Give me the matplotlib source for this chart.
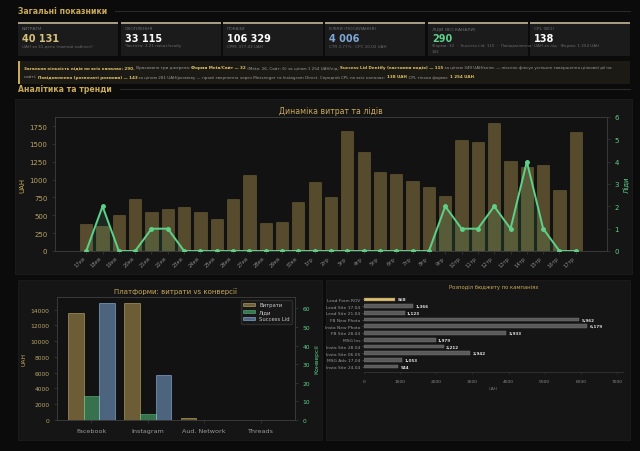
"""Дашборд: загальні показники, динаміка витрат та лідів, платформи і кампанії."""

import matplotlib

matplotlib.use("Agg")
import matplotlib.pyplot as plt
from matplotlib.patches import Rectangle
import numpy as np

# --- Дані -------------------------------------------------------------------
kpi_labels = ["ВИТРАТИ", "ОХОПЛЕННЯ", "ПОКАЗИ", "КЛІКИ (ПОСИЛАННЯ)", "ЛІДИ (ВСІ КАНАЛИ)", "CPL (ВСІ)"]
kpi_values = ["40 131", "33 115", "106 329", "4 006", "290", "138"]
kpi_notes = [
    "UAH за 31 день (повний кабінет)",
    "Частота: 3.21 показ/особу",
    "CPM: 377.43 UAH",
    "CTR 3.77% · CPC 10.02 UAH",
    "Форми: 32  ·  Success Lid: 115  ·  Повідомлення:\n143",
    "UAH за лід · Форми: 1 254 UAH",
]

days = ["17кв", "18кв", "19кв", "20кв", "21кв", "22кв", "23кв", "24кв", "25кв", "26кв",
        "27кв", "28кв", "29кв", "30кв", "1тр", "2тр", "3тр", "4тр", "5тр", "6тр", "7тр",
        "8тр", "9тр", "10тр", "11тр", "12тр", "13тр", "14тр", "15тр", "16тр", "17тр"]
daily_spend = [376, 357, 503, 729, 546, 588, 616, 546, 442, 729, 1058, 395, 405, 682, 969,
               762, 1684, 1392, 1101, 1077, 983, 894, 776, 1552, 1524, 1788, 1261, 1181,
               1200, 861, 1670]
daily_leads = [0, 2, 0, 0, 1, 1, 0, 0, 0, 0, 0, 0, 0, 0, 0,
               0, 0, 0, 0, 0, 0, 0, 2, 1, 1, 2, 1, 4, 1, 0, 0]

platforms = ["Facebook", "Instagram", "Aud. Network", "Threads"]
platform_spend = [13535, 14846, 254, 0]
platform_leads = [13, 3, 0, 0]
platform_success = [63, 24, 0, 0]

campaigns = ["Lead Form ROV", "Lead Site 17.04", "Lead Site 21.04", "FB New Photo",
             "Insta New Photo", "FB Site 28.04", "MSG Ins", "Insta Site 28.04",
             "Insta Site 06.05", "MSG Adv 17.04", "Insta Site 24.04"]
campaign_spend = [868, 1366, 1123, 5962, 6179, 3933, 1979, 2212, 2942, 1053, 944]

# --- Кольори ----------------------------------------------------------------
BG = "#0b0b0b"
PANEL = "#151515"
CARD = "#1b1b1b"
GOLD = "#c9a95a"
GREEN = "#5fd08a"
BLUE = "#7fa8d8"
GRAY = "#8a8a8a"
SPINE = "#3a3a3a"

W, H = 640, 452
fig = plt.figure(figsize=(W / 100, H / 100), dpi=100, facecolor=BG)
renderer = fig.canvas.get_renderer()


def fx(px):
    return px / W


def fy(py):
    return 1 - py / H


def box(x0, y0, x1, y1, color, edge=None, lw=0.0):
    fig.patches.append(Rectangle((fx(x0), fy(y1)), fx(x1 - x0), (y1 - y0) / H,
                                 transform=fig.transFigure, facecolor=color,
                                 edgecolor=edge if edge else color, linewidth=lw, zorder=-5))


def section_header(text, y):
    t = fig.text(fx(18), fy(y), text, color=GOLD, fontsize=5.6, fontweight="bold",
                 va="center", ha="left")
    x_end = t.get_window_extent(renderer).x1 + 8
    fig.add_artist(plt.Line2D([x_end / W, fx(630)], [fy(y), fy(y)], color="#2a2a2a",
                              lw=0.8, transform=fig.transFigure, zorder=-4))


# --- Загальні показники -------------------------------------------------------
section_header("Загальні показники", 12)

value_colors = ["#d8c27a", "white", "white", BLUE, GREEN, "white"]
card_x = [18, 121, 223, 325, 428, 530]
for i, cx in enumerate(card_x):
    box(cx, 23, cx + 100, 57, CARD)
    box(cx, 22.5, cx + 100, 24.5, "#a59c84")
    fig.text(fx(cx + 4), fy(29.5), kpi_labels[i], color="#6f6f6f", fontsize=3.2, va="center")
    fig.text(fx(cx + 4), fy(38.5), kpi_values[i], color=value_colors[i], fontsize=7,
             fontweight="bold", va="center")
    fig.text(fx(cx + 4), fy(44.5), kpi_notes[i], color="#6a6a6a", fontsize=3.0,
             va="top", linespacing=1.4)

# --- Пояснення по лідах ------------------------------------------------------
box(18, 62, 630, 85, "#1c1a14")
box(18, 62, 20, 85, GOLD)

banner_lines = [
    [("Загальна кількість лідів по всіх каналах: 290.", True),
     (" Враховано три джерела: ", False),
     ("Форми Meta/Сайт — 32", True),
     (" (Meta: 26, Сайт: 6) за ціною 1 254 UAH/лід; ", False),
     ("Success Lid Dentify (кастомна подія) — 115", True),
     (" за ціною 349 UAH/конв. — піксель фіксує успішне завершення цільової дії на", False)],
    [("сайті; ", False),
     ("Повідомлення (розпочаті розмови) — 143", True),
     (" за ціною 281 UAH/розмову — прямі звернення через Messenger та Instagram Direct. "
      "Середній CPL по всіх каналах: ", False),
     ("138 UAH", True),
     (". CPL тільки форми: ", False),
     ("1 254 UAH", True),
     (".", False)],
]


def draw_runs(runs, line_y, size):
    x = 24
    for txt, bold in runs:
        t = fig.text(fx(x), fy(line_y), txt, fontsize=size, va="center", ha="left",
                     color="#e0c068" if bold else "#9a9a9a",
                     fontweight="bold" if bold else "normal")
        x += t.get_window_extent(renderer).width
    return x


# перший рядок має закінчуватися біля x=615
probe = [fig.text(0, 0, txt, fontsize=10, fontweight="bold" if b else "normal")
         for txt, b in banner_lines[0]]
total = sum(p.get_window_extent(renderer).width for p in probe)
for p in probe:
    p.remove()
banner_size = 10 * (615 - 24) / total
for line_y, runs in zip([68.5, 77.5], banner_lines):
    draw_runs(runs, line_y, banner_size)

# --- Аналітика та тренди -----------------------------------------------------
section_header("Аналітика та тренди", 90)

box(15, 100, 632, 275, PANEL, edge="#1f1f1f", lw=0.5)
box(18, 281, 322, 441, PANEL, edge="#1f1f1f", lw=0.5)
box(326, 281, 630, 441, PANEL, edge="#1f1f1f", lw=0.5)


def style_axes(ax):
    ax.set_facecolor("#121212")
    for s in ax.spines.values():
        s.set_color(SPINE)
        s.set_linewidth(0.6)
    ax.tick_params(colors=SPINE, length=2, width=0.5)


# Динаміка витрат та лідів
ax1 = fig.add_axes([fx(55), fy(252), fx(552), 134 / H])
style_axes(ax1)
x = np.arange(len(days))
ax1.bar(x, daily_spend, width=0.75, color=GOLD, alpha=0.38, edgecolor=GOLD, linewidth=0.4)
ax1.set_ylim(0, max(daily_spend) * 1.05)
ax1.set_yticks(range(0, 1751, 250))
ax1.tick_params(axis="y", labelcolor="#b9a366", labelsize=5)
ax1.set_xticks(x)
ax1.set_xticklabels(days, rotation=45, ha="right", fontsize=3.8, color=GRAY)
ax1.tick_params(axis="x", pad=1)
ax1.set_ylabel("UAH", color=GOLD, fontsize=5, labelpad=3)
ax1.set_title("Динаміка витрат та лідів", color=GOLD, fontsize=5.6, pad=3)

ax1r = ax1.twinx()
ax1r.plot(x, daily_leads, color=GREEN, lw=1.4, marker="o", ms=2.5, zorder=3)
ax1r.fill_between(x, daily_leads, color=GREEN, alpha=0.12)
ax1r.set_ylim(0, 6)
ax1r.set_yticks(range(0, 7))
ax1r.tick_params(axis="y", labelsize=5, colors=SPINE, length=2, width=0.5)
ax1r.tick_params(axis="y", labelcolor=GREEN)
for s in ax1r.spines.values():
    s.set_color(SPINE)
    s.set_linewidth(0.6)
ax1r.set_ylabel("Ліди", color=GREEN, fontsize=5, labelpad=3)

# Платформи: витрати vs конверсії
ax2 = fig.add_axes([fx(57), fy(421), fx(238), 123 / H])
style_axes(ax2)
px = np.arange(len(platforms))
bw = 0.28
b1 = ax2.bar(px - bw, platform_spend, width=bw, color=GOLD, alpha=0.5, edgecolor="#d8c27a",
             linewidth=0.7, label="Витрати")
ax2.set_ylim(0, max(platform_spend) * 1.05)
ax2.set_xticks(px)
ax2.set_xticklabels(platforms, fontsize=4.6, color="#9a9a9a")
ax2.tick_params(axis="y", labelcolor="#b9a366", labelsize=4.3)
ax2.set_ylabel("UAH", color=GOLD, fontsize=4.3, labelpad=3)
ax2.set_title("Платформи: витрати vs конверсії", color=GOLD, fontsize=5, pad=3)

ax2r = ax2.twinx()
b2 = ax2r.bar(px, platform_leads, width=bw, color=GREEN, alpha=0.5, edgecolor=GREEN,
              linewidth=0.7, label="Ліди")
b3 = ax2r.bar(px + bw, platform_success, width=bw, color=BLUE, alpha=0.55, edgecolor="#9cc0ea",
              linewidth=0.7, label="Success Lid")
ax2r.set_ylim(0, max(platform_success) * 1.05)
ax2r.tick_params(axis="y", labelsize=4.3, colors=SPINE, length=2, width=0.5)
ax2r.tick_params(axis="y", labelcolor=GREEN)
for s in ax2r.spines.values():
    s.set_color(SPINE)
    s.set_linewidth(0.6)
ax2r.set_ylabel("Конверсії", color=GREEN, fontsize=4.3, labelpad=3)
ax2r.legend([b1, b2, b3], ["Витрати", "Ліди", "Success Lid"], loc="upper right",
            fontsize=3.8, facecolor="#1a1a1a", edgecolor="#333333", labelcolor="#cccccc",
            handlelength=2.2, borderpad=0.5, labelspacing=0.4)

# Розподіл бюджету по кампаніях
ax3 = fig.add_axes([fx(364), fy(373), fx(259), 78 / H])
ax3.set_facecolor(PANEL)
cy = np.arange(len(campaigns))
bar_colors = ["#e0c068"] + ["#5a5a5a"] * (len(campaigns) - 1)
ax3.barh(cy, campaign_spend, height=0.55, color=bar_colors, edgecolor="#777777", linewidth=0.3)
ax3.invert_yaxis()
ax3.set_xlim(0, max(campaign_spend) * 1.16)
ax3.set_yticks(cy)
ax3.set_yticklabels(campaigns, fontsize=3.2, color="#9a9a9a")
ax3.set_xticks(range(0, 7001, 1000))
ax3.tick_params(axis="x", labelsize=3.2, labelcolor="#8a8a8a", colors=SPINE, length=1.5, width=0.4)
ax3.tick_params(axis="y", colors="#666666", length=1.5, width=0.4, pad=1)
ax3.tick_params(axis="y", labelcolor="#9a9a9a")
for name in ["top", "right", "left"]:
    ax3.spines[name].set_visible(False)
ax3.spines["bottom"].set_color(SPINE)
ax3.spines["bottom"].set_linewidth(0.5)
for yi, val in zip(cy, campaign_spend):
    ax3.text(val + 60, yi, f"{val:,}", va="center", ha="left", fontsize=3, color="#dddddd",
             fontweight="bold")
ax3.set_xlabel("UAH", fontsize=3, color="#777777", labelpad=2)
ax3.set_title("Розподіл бюджету по кампаніях", color=GOLD, fontsize=3.8, pad=4)

fig.savefig("out.png", dpi=100, facecolor=BG)
